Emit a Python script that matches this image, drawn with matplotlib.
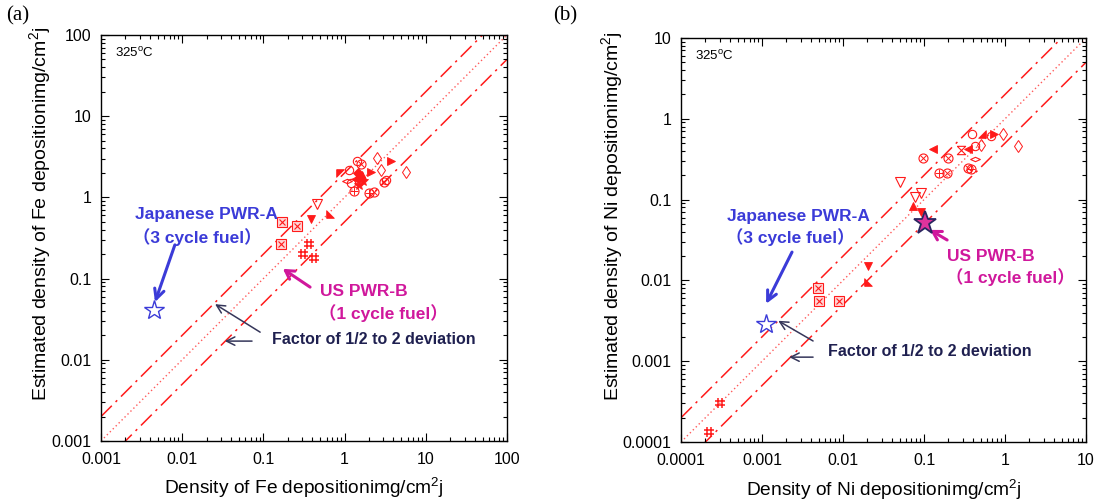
import numpy as np
import matplotlib
matplotlib.use("Agg")
import matplotlib.pyplot as plt
from matplotlib.path import Path
from matplotlib.ticker import LogLocator, FuncFormatter, NullFormatter

plt.rcParams['font.family'] = ['Liberation Sans', 'Noto Sans CJK JP', 'DejaVu Sans']
plt.rcParams['mathtext.fontset'] = 'custom'
plt.rcParams['mathtext.rm'] = 'Liberation Sans'
plt.rcParams['mathtext.it'] = 'Liberation Sans'

# ---- Fe deposition (panel a): measured vs estimated, mg/cm2 ----
fe_kind = ['boxx', 'boxx', 'boxx', 'hash', 'hash', 'hash',
           'vfill', 'vopen', 'tri_ll', 'tri_ul', 'dflat',
           'circle', 'circle', 'circle', 'otimes', 'otimes', 'otimes',
           'oplus', 'oplus', 'star', 'star', 'rfill', 'rfill', 'dfill',
           'dthin', 'dthin', 'dthin', 'lfill', 'ufill', 'circle', 'dfill']
fe_x = [0.170, 0.26, 0.166, 0.363, 0.31, 0.42,
        0.39, 0.46, 0.67, 0.88, 1.08,
        1.13, 1.44, 3.21, 1.6, 2.3, 3.05,
        2.0, 1.31, 1.51, 1.7, 3.7, 2.1, 1.45,
        2.53, 5.66, 2.79, 1.35, 1.65, 1.2, 1.55]
fe_y = [0.50, 0.44, 0.27, 0.27, 0.198, 0.18,
        0.54, 0.83, 0.63, 2.0, 1.58,
        2.17, 2.77, 1.64, 2.57, 1.18, 1.56,
        1.13, 1.2, 1.43, 1.6, 2.77, 2.08, 2.0,
        3.04, 2.08, 2.18, 1.7, 1.9, 1.5, 1.8]

# ---- Ni deposition (panel b) ----
ni_kind = ['boxx', 'boxx', 'boxx', 'hash', 'hash',
           'vfill', 'vfill', 'tri_ll', 'ufill',
           'vopen', 'vopen', 'vopen',
           'otimes', 'otimes', 'otimes', 'otimes', 'oplus', 'oplus',
           'lfill', 'lfill', 'hourglass', 'circle', 'dthin', 'dflat',
           'circle', 'circle', 'tri_lr', 'rfill', 'dthin', 'dthin']
ni_x = [0.00486, 0.0051, 0.0089, 0.000303, 0.000224,
        0.0202, 0.0918, 0.0202, 0.0738,
        0.0774, 0.092, 0.0506,
        0.098, 0.194, 0.352, 0.196, 0.155, 0.375,
        0.13, 0.346, 0.286, 0.427, 0.5, 0.427,
        0.387, 0.67, 0.515, 0.74, 0.95, 1.46]
ni_y = [0.0081, 0.0056, 0.0056, 0.000304, 0.000133,
        0.0152, 0.071, 0.0096, 0.0843,
        0.109, 0.122, 0.167,
        0.325, 0.213, 0.245, 0.33, 0.216, 0.24,
        0.425, 0.42, 0.413, 0.454, 0.47, 0.316,
        0.645, 0.61, 0.65, 0.65, 0.645, 0.454]

# Reference plants
jp_fe = (0.00446, 0.041)
jp_ni = (0.00112, 0.00288)
us_ni = (0.103, 0.052)

# deviation band: factor 2, 1, 1/2
ratios = [2.0, 1.0, 0.5]

RED = '#ff1a1a'
BLUE = '#3b3bd8'
MAGENTA = '#d0189c'
NAVY = '#1f2050'

tri_ll = [(-1, -1), (1, -1), (-1, 1), (-1, -1)]
tri_ul = [(-1, 1), (1, 1), (-1, -1), (-1, 1)]
tri_lr = [(1, -1), (1, 1), (-1, -1), (1, -1)]
hourglass = [(-1, 1), (1, 1), (-1, -1), (1, -1), (-1, 1)]
dflat = [(-1, 0), (0, 0.45), (1, 0), (0, -0.45), (-1, 0)]
hash_path = Path([(-0.35, -1), (-0.35, 1), (0.35, -1), (0.35, 1),
                  (-1, 0.35), (1, 0.35), (-1, -0.35), (1, -0.35)],
                 [Path.MOVETO, Path.LINETO] * 4)

OPEN = dict(mfc='none', mec=RED, mew=0.8)
FILL = dict(mfc=RED, mec=RED, mew=0.6)
styles = {
    'boxx': [dict(marker='s', ms=6.5, mfc='#ffd6d6', mec=RED, mew=0.8),
             dict(marker='x', ms=4.5, mec=RED, mew=0.8)],
    'hash': [dict(marker=hash_path, ms=7, mfc='none', mec=RED, mew=1.1)],
    'vfill': [dict(marker='v', ms=6, **FILL)],
    'vopen': [dict(marker='v', ms=6.5, **OPEN)],
    'ufill': [dict(marker='^', ms=6, **FILL)],
    'lfill': [dict(marker='<', ms=6, **FILL)],
    'rfill': [dict(marker='>', ms=6, **FILL)],
    'tri_ll': [dict(marker=tri_ll, ms=5.5, **FILL)],
    'tri_ul': [dict(marker=tri_ul, ms=5.5, **FILL)],
    'tri_lr': [dict(marker=tri_lr, ms=5.5, **FILL)],
    'hourglass': [dict(marker=hourglass, ms=6, **OPEN)],
    'dflat': [dict(marker=dflat, ms=7, **OPEN)],
    'dthin': [dict(marker='d', ms=6.5, mfc='none', mec=RED, mew=0.7)],
    'dfill': [dict(marker='D', ms=5, **FILL)],
    'circle': [dict(marker='o', ms=6, **OPEN)],
    'otimes': [dict(marker='o', ms=6.5, **OPEN),
               dict(marker='x', ms=4, mec=RED, mew=0.7)],
    'oplus': [dict(marker='o', ms=6.5, **OPEN),
              dict(marker='+', ms=6, mec=RED, mew=0.7)],
    'star': [dict(marker='*', ms=8, **FILL)],
}


def fmt(v, pos):
    return '%g' % v


def setup_axes(ax, lo, hi, xlabel, ylabel):
    ax.set_xscale('log')
    ax.set_yscale('log')
    ax.set_xlim(lo, hi)
    ax.set_ylim(lo, hi)
    for a in (ax.xaxis, ax.yaxis):
        a.set_major_locator(LogLocator(base=10, numticks=20))
        a.set_minor_locator(LogLocator(base=10, subs=np.arange(2, 10), numticks=20))
        a.set_major_formatter(FuncFormatter(fmt))
        a.set_minor_formatter(NullFormatter())
    ax.tick_params(which='both', direction='in', top=True, right=True,
                   labelsize=11.5, width=0.8, colors='black')
    ax.tick_params(which='major', length=6)
    ax.tick_params(which='minor', length=3)
    ax.tick_params(axis='x', pad=8)
    ax.tick_params(axis='y', pad=7)
    for s in ax.spines.values():
        s.set_linewidth(1.0)
    ax.set_xlabel(xlabel, fontsize=13.8)
    ax.set_ylabel(ylabel, fontsize=14.0)
    # deviation lines
    xs = np.array(ax.get_xlim())
    for r in ratios:
        if r == 1.0:
            ax.plot(xs, r * xs, color='#ff5a5a', lw=1.0, ls=(0, (1, 2)), zorder=1)
        else:
            ax.plot(xs, r * xs, color=RED, lw=1.1, ls=(0, (10, 3.5, 1.5, 3.5)), zorder=1)
    ax.text(0.034, 0.955, '325$^\\mathrm{o}$C', transform=ax.transAxes,
            fontsize=9.5, va='center', ha='left')


def draw_points(ax, kinds, xs, ys):
    for k, x, y in zip(kinds, xs, ys):
        for st in styles[k]:
            ax.plot([x], [y], ls='none', zorder=3, **st)


fig = plt.figure(figsize=(10.99, 5.03), dpi=100)
axa = fig.add_axes([0.0919, 0.1233, 0.3694, 0.8072])
axb = fig.add_axes([0.6197, 0.1213, 0.3685, 0.8032])

setup_axes(axa, 0.001, 100, 'Density of Fe depositionimg/cm$^2$j',
           'Estimated density of Fe depositionimg/cm$^2$j')
setup_axes(axb, 0.0001, 10, 'Density of Ni depositionimg/cm$^2$j',
           'Estimated density of Ni depositionimg/cm$^2$j')
axa.yaxis.set_label_coords(-0.117, 0.56)
axb.yaxis.set_label_coords(-0.138, 0.56)
axa.xaxis.set_label_coords(0.5, -0.085)
axb.xaxis.set_label_coords(0.5, -0.088)

draw_points(axa, fe_kind, fe_x, fe_y)
draw_points(axb, ni_kind, ni_x, ni_y)

axa.plot([jp_fe[0]], [jp_fe[1]], marker='*', ms=15, mfc='white', mec=BLUE, mew=1.0, zorder=4)
axb.plot([jp_ni[0]], [jp_ni[1]], marker='*', ms=15, mfc='white', mec=BLUE, mew=1.0, zorder=4)
axb.plot([us_ni[0]], [us_ni[1]], marker='*', ms=17, mfc='#e0339c', mec='#2a2560', mew=1.3, zorder=4)

tkw = dict(fontsize=12.5, fontweight='bold', va='center', ha='left')


def annotate_panel(ax, jp_txt, us_txt, us_arrow, jp_arrow, fac_txt, fac_arrows):
    ax.text(*jp_txt[0], 'Japanese PWR-A', transform=ax.transAxes, color=BLUE, **tkw)
    ax.text(*jp_txt[1], '（3 cycle fuel）', transform=ax.transAxes, color=BLUE, **tkw)
    ax.text(*us_txt[0], 'US PWR-B', transform=ax.transAxes, color=MAGENTA, **tkw)
    ax.text(*us_txt[1], '（1 cycle fuel）', transform=ax.transAxes, color=MAGENTA, **tkw)
    ax.text(*fac_txt, 'Factor of 1/2 to 2 deviation', transform=ax.transAxes,
            color=NAVY, fontsize=11.5, fontweight='bold', va='center', ha='left')
    ax.annotate('', xy=jp_arrow[1], xytext=jp_arrow[0], xycoords='axes fraction',
                textcoords='axes fraction',
                arrowprops=dict(arrowstyle='->,head_length=0.7,head_width=0.35',
                                color=BLUE, lw=2.2, shrinkA=0, shrinkB=0))
    ax.annotate('', xy=us_arrow[1], xytext=us_arrow[0], xycoords='axes fraction',
                textcoords='axes fraction',
                arrowprops=dict(arrowstyle='->,head_length=0.6,head_width=0.35',
                                color=MAGENTA, lw=2.2, shrinkA=0, shrinkB=0))
    for a in fac_arrows:
        ax.annotate('', xy=a[1], xytext=a[0], xycoords='axes fraction',
                    textcoords='axes fraction',
                    arrowprops=dict(arrowstyle='->,head_length=0.6,head_width=0.3',
                                    color='#35365a', lw=1.1, shrinkA=0, shrinkB=0))


annotate_panel(axa,
               [(0.084, 0.557), (0.080, 0.502)],
               [(0.539, 0.367), (0.536, 0.315)],
               [(0.515, 0.379), (0.448, 0.424)],
               [(0.182, 0.483), (0.133, 0.342)],
               (0.421, 0.251),
               [[(0.392, 0.268), (0.281, 0.337)], [(0.372, 0.246), (0.305, 0.246)]])
annotate_panel(axb,
               [(0.114, 0.559), (0.110, 0.507)],
               [(0.657, 0.460), (0.653, 0.408)],
               [(0.657, 0.500), (0.615, 0.525)],
               [(0.274, 0.470), (0.210, 0.342)],
               (0.363, 0.223),
               [[(0.326, 0.250), (0.240, 0.300)], [(0.326, 0.210), (0.267, 0.210)]])

fig.text(0.006, 0.968, '(a)', family='Liberation Serif', fontsize=15, va='center', ha='left')
fig.text(0.503, 0.968, '(b)', family='Liberation Serif', fontsize=15, va='center', ha='left')

fig.savefig('out.png', dpi=100)
